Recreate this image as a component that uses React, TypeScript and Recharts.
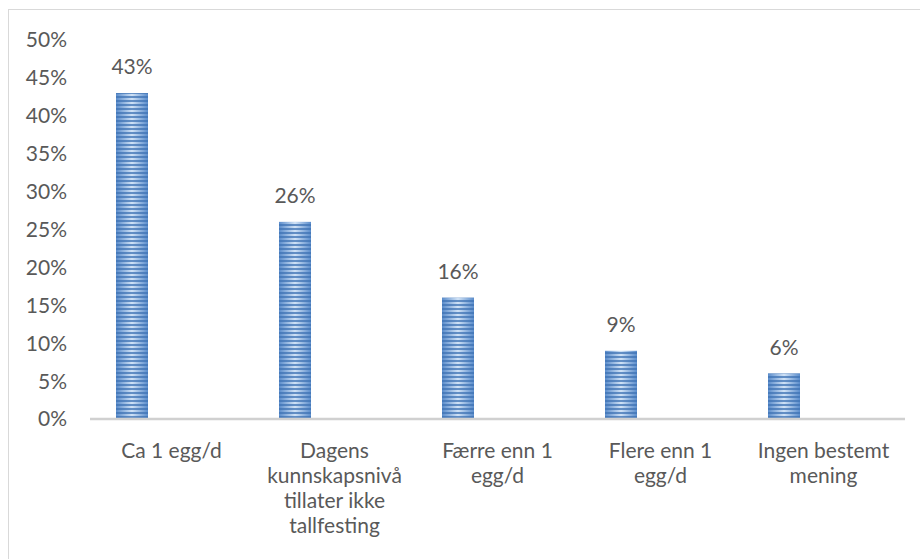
import React from "react";
import { BarChart, Bar, XAxis, YAxis, LabelList } from "recharts";

const categories = [
  "Ca 1 egg/d",
  "Dagens kunnskapsnivå tillater ikke tallfesting",
  "Færre enn 1 egg/d",
  "Flere enn 1 egg/d",
  "Ingen bestemt mening",
];
const categoryLines: string[][] = [
  ["Ca 1 egg/d"],
  ["Dagens", "kunnskapsnivå", "tillater ikke", "tallfesting"],
  ["Færre enn 1", "egg/d"],
  ["Flere enn 1", "egg/d"],
  ["Ingen bestemt", "mening"],
];
const values = [43, 26, 16, 9, 6];
const yTicks = [0, 5, 10, 15, 20, 25, 30, 35, 40, 45, 50];

const data = categories.map((c, i) => ({
  name: c,
  value: values[i],
  blank: null as number | null,
}));

const FONT = "Lato, 'Noto Sans', sans-serif";
const TEXT = "#595959";
const FS = 21;

const XTick = (props: any) => {
  const { x, y, payload } = props;
  const idx = categories.indexOf(payload.value);
  const lines = idx >= 0 ? categoryLines[idx] : [String(payload.value)];
  return (
    <text x={x} y={y} textAnchor="middle" fill={TEXT} fontSize={FS} fontFamily={FONT}>
      {lines.map((l, i) => (
        <tspan key={i} x={x} dy={i === 0 ? 39 : 25}>
          {l}
        </tspan>
      ))}
    </text>
  );
};

const StripedBar = (props: any) => {
  const { x, y, width, height } = props;
  if (!height || height <= 0) return null;
  return (
    <g>
      <rect x={x} y={y} width={width} height={height} fill="url(#barGrad)" />
      <rect x={x} y={y} width={width} height={height} fill="url(#stripes)" />
    </g>
  );
};

export default function App() {
  return (
    <div style={{ position: "relative", width: 920, height: 559, background: "#fff", overflow: "hidden" }}>
      <style>{`body{margin:0;overflow:hidden;}`}</style>
      <div
        style={{
          position: "absolute",
          left: 8,
          top: 9,
          right: -2,
          bottom: -2,
          borderTop: "1px solid #d9d9d9",
          borderLeft: "1px solid #d9d9d9",
        }}
      />
      <div style={{ position: "absolute", left: 0, top: 0 }}>
        <BarChart
          width={920}
          height={559}
          data={data}
          margin={{ top: 40, right: 15, bottom: 0, left: 30 }}
          barGap={48}
        >
          <defs>
            <linearGradient id="barGrad" x1="0" y1="0" x2="1" y2="0">
              <stop offset="0%" stopColor="#5a8ccb" />
              <stop offset="50%" stopColor="#d0e2f6" />
              <stop offset="100%" stopColor="#5a8ccb" />
            </linearGradient>
            <pattern id="stripes" patternUnits="userSpaceOnUse" width="8" height="4">
              <rect x="0" y="0" width="8" height="2" fill="#3f72b4" fillOpacity="0.75" />
            </pattern>
          </defs>
          <XAxis
            dataKey="name"
            interval={0}
            height={140}
            tickLine={false}
            tickSize={0}
            tickMargin={0}
            axisLine={{ stroke: "#d0d0d0", strokeWidth: 2.5 }}
            tick={<XTick />}
          />
          <YAxis
            width={60}
            domain={[0, 50]}
            ticks={yTicks}
            axisLine={false}
            tickLine={false}
            tickSize={0}
            tickMargin={23}
            tickFormatter={(v: number) => `${v}%`}
            tick={{ fill: TEXT, fontSize: FS, fontFamily: FONT }}
          />
          <Bar dataKey="value" barSize={32} isAnimationActive={false} shape={<StripedBar />}>
            <LabelList
              dataKey="value"
              position="top"
              offset={19}
              formatter={(v: number) => `${v}%`}
              style={{ fill: TEXT, fontSize: FS, fontFamily: FONT }}
            />
          </Bar>
          <Bar dataKey="blank" barSize={32} isAnimationActive={false} fill="transparent" />
        </BarChart>
      </div>
    </div>
  );
}
